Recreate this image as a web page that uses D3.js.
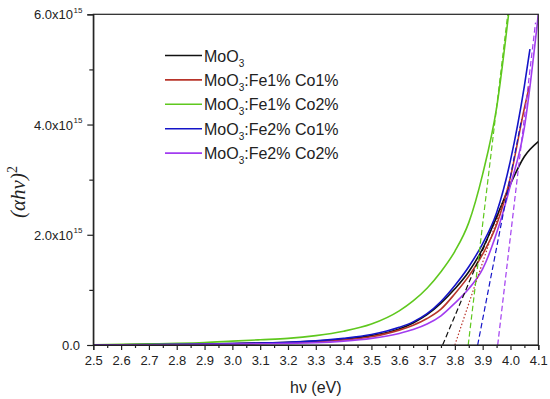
<!DOCTYPE html>
<html>
<head>
<meta charset="utf-8">
<script src="https://cdn.jsdelivr.net/npm/d3@7/dist/d3.min.js"></script>
<style>
  body { margin: 0; background: #fff; }
  svg { font-family: "Liberation Sans", Arial, sans-serif; }
</style>
</head>
<body>
<svg width="550" height="399"></svg>
<script>
// photon energy (eV) and (ahv)^2 in units of 1e15
const energy = [2.5, 2.6, 2.7, 2.8, 2.9, 3.0, 3.1, 3.2, 3.3, 3.4, 3.5, 3.6, 3.65, 3.7, 3.75, 3.8, 3.85, 3.9, 3.95, 4.0, 4.05, 4.1];
const moo3    = [0.0, 0.004, 0.008, 0.012, 0.018, 0.025, 0.035, 0.048, 0.07, 0.11, 0.17, 0.29, 0.40, 0.55, 0.76, 1.02, 1.33, 1.75, 2.32, 2.92, 3.42, 3.69];
const fe1co1  = [0.0, 0.003, 0.006, 0.01, 0.014, 0.02, 0.028, 0.04, 0.06, 0.09, 0.15, 0.27, 0.36, 0.48, 0.65, 0.93, 1.25, 1.65, 2.18, 3.05, 4.3, null];
const fe1co2  = [0.005, 0.012, 0.02, 0.03, 0.045, 0.07, 0.095, 0.12, 0.17, 0.25, 0.38, 0.62, 0.8, 1.03, 1.33, 1.7, 2.22, 3.1, 4.3, 6.3, null, null];
const fe2co1  = [0.0, 0.004, 0.008, 0.013, 0.019, 0.027, 0.037, 0.05, 0.075, 0.12, 0.19, 0.32, 0.42, 0.57, 0.79, 1.08, 1.42, 1.84, 2.4, 3.35, 4.7, null];
const fe2co2  = [0.0, 0.002, 0.005, 0.008, 0.011, 0.016, 0.022, 0.03, 0.04, 0.07, 0.12, 0.21, 0.28, 0.38, 0.53, 0.76, 1.02, 1.38, 2.03, 2.9, 3.95, 6.0];
// last measured points where a curve stops before 4.1 eV
const endE = [null, 4.068, null, 4.07, null];
const endV = [null, 4.70, null, 5.37, null];

const seriesNames = ["MoO3", "MoO3:Fe1% Co1%", "MoO3:Fe1% Co2%", "MoO3:Fe2% Co1%", "MoO3:Fe2% Co2%"];
const seriesData = [moo3, fe1co1, fe1co2, fe2co1, fe2co2];
const colors = ["#111111", "#b8342a", "#5fc81e", "#1414c8", "#a23cf0"];

// linear band-gap fits: x-intercept, end energy, end value
const fitX0 = [3.756, 3.80, 3.848, 3.882, 3.954];
const fitX1 = [3.99, 4.0, 3.99, 4.04, 4.09];
const fitY1 = [2.8, 3.0, 6.0, 4.1, 5.85];

const xTicks = [2.5, 2.6, 2.7, 2.8, 2.9, 3.0, 3.1, 3.2, 3.3, 3.4, 3.5, 3.6, 3.7, 3.8, 3.9, 4.0, 4.1];
const yTicks = [0, 2, 4, 6];
const yTickLabels = ["0.0", "2.0x10", "4.0x10", "6.0x10"];

const svg = d3.select("svg");
const mLeft = 93.3, mRight = 538.3, mTop = 14.3, mBottom = 345;

const x = d3.scaleLinear().domain([2.5, 4.1]).range([mLeft, mRight]);
const y = d3.scaleLinear().domain([0, 6]).range([mBottom, mTop]);

svg.append("defs").append("clipPath").attr("id", "plot")
  .append("rect").attr("x", mLeft).attr("y", mTop).attr("width", mRight - mLeft).attr("height", mBottom - mTop);

// curves
const line = d3.line()
  .defined((d) => d[1] != null)
  .x((d) => x(d[0]))
  .y((d) => y(d[1]))
  .curve(d3.curveMonotoneX);

const curvesG = svg.append("g").attr("clip-path", "url(#plot)");
seriesData.forEach((vals, i) => {
  const pts = energy.map((e, j) => [e, vals[j]]).filter((d) => d[1] != null);
  if (endE[i] != null) pts.push([endE[i], endV[i]]);
  curvesG.append("path")
    .attr("d", line(pts))
    .attr("fill", "none")
    .attr("stroke", colors[i])
    .attr("stroke-width", 1.6);
});

// fit lines
fitX0.forEach((x0, i) => {
  curvesG.append("line")
    .attr("x1", x(x0)).attr("y1", y(0))
    .attr("x2", x(fitX1[i])).attr("y2", y(fitY1[i]))
    .attr("stroke", colors[i])
    .attr("stroke-width", 1.2)
    .attr("stroke-dasharray", i === 1 ? "1.5,2" : "5.5,3");
});

// frame
svg.append("rect")
  .attr("x", mLeft).attr("y", mTop)
  .attr("width", mRight - mLeft).attr("height", mBottom - mTop)
  .attr("fill", "none").attr("stroke", "#222").attr("stroke-width", 1.2);

// x axis
const xAxis = svg.append("g").attr("transform", `translate(0,${mBottom})`)
  .call(d3.axisBottom(x).tickValues(xTicks).tickSize(5).tickFormat(d3.format(".1f")));
svg.append("g").attr("transform", `translate(0,${mBottom})`)
  .call(d3.axisBottom(x).tickValues(d3.range(2.55, 4.1, 0.1)).tickSize(3).tickFormat(""))
  .select(".domain").remove();

// y axis
svg.append("g").attr("transform", `translate(${mLeft},0)`)
  .call(d3.axisLeft(y).tickValues(yTicks).tickSize(6).tickFormat(""));
svg.append("g").attr("transform", `translate(${mLeft},0)`)
  .call(d3.axisLeft(y).tickValues([1, 3, 5]).tickSize(4).tickFormat(""))
  .select(".domain").remove();

svg.selectAll(".tick line, .domain").attr("stroke", "#222").attr("stroke-width", 1.2);
xAxis.selectAll("text").attr("font-size", 13).attr("fill", "#222").attr("dy", "0.95em")
  .attr("font-family", "Liberation Sans, Arial, sans-serif");

const yLab = svg.append("g");
yTicks.forEach((t, i) => {
  yLab.append("text")
    .attr("x", i === 0 ? 80 : 73)
    .attr("y", y(t) + 5)
    .attr("text-anchor", "end")
    .attr("font-size", 13)
    .attr("fill", "#222")
    .text(yTickLabels[i]);
  if (i > 0) {
    yLab.append("text")
      .attr("x", 73.5).attr("y", y(t) - 1.5)
      .attr("font-size", 8).attr("fill", "#222")
      .text("15");
  }
});

// axis titles
svg.append("text")
  .attr("x", (mLeft + mRight) / 2).attr("y", 393)
  .attr("text-anchor", "middle").attr("font-size", 16).attr("fill", "#222")
  .text("hν (eV)");

const yt = svg.append("text")
  .attr("transform", "translate(25,192) rotate(-90)")
  .attr("text-anchor", "middle")
  .attr("font-family", "Liberation Serif, Times New Roman, serif")
  .attr("font-size", 21).attr("fill", "#222");
yt.append("tspan").attr("font-style", "italic").text("(αhν)");
yt.append("tspan").attr("dy", -8).attr("font-size", 14).text("2");

// legend
const legend = svg.append("g");
seriesNames.forEach((name, i) => {
  const ly = 55.5 + i * 24.4;
  legend.append("line")
    .attr("x1", 165).attr("x2", 202).attr("y1", ly).attr("y2", ly)
    .attr("stroke", colors[i]).attr("stroke-width", 1.6);
  const t = legend.append("text")
    .attr("x", 204).attr("y", ly + 6)
    .attr("font-size", 16).attr("fill", "#222");
  t.append("tspan").text("MoO");
  t.append("tspan").attr("dy", 5).attr("font-size", 10).text("3");
  if (name.length > 4) t.append("tspan").attr("dy", -5).text(name.slice(4));
});
</script>
</body>
</html>
